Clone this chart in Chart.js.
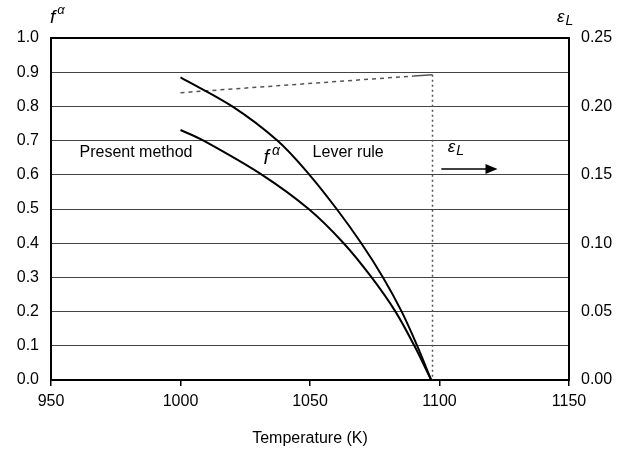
<!DOCTYPE html>
<html>
<head>
<meta charset="utf-8">
<script src="https://cdn.jsdelivr.net/npm/chart.js@4.4.1/dist/chart.umd.min.js"></script>
<style>
  html, body { margin: 0; padding: 0; background: #fff; }
  #wrap { width: 630px; height: 454px; position: relative; }
</style>
</head>
<body>
<div id="wrap"><canvas id="c" width="630" height="454"></canvas></div>
<script>
// ---- Data ----
const leverTemps   = [1000, 1020, 1037.4, 1049.8, 1060.3, 1069.8, 1078.2, 1085.4, 1091.4, 1096.8];
const leverFrac    = [0.885, 0.80, 0.70, 0.60, 0.50, 0.40, 0.30, 0.20, 0.10, 0.0];
const presentTemps = [1000, 1008.9, 1031.5, 1049.5, 1063, 1073.8, 1083, 1090.3, 1096.8];
const presentFrac  = [0.731, 0.70, 0.60, 0.50, 0.40, 0.30, 0.20, 0.10, 0.0];
const epsTemps     = [1000, 1090, 1097.3];
const epsValues    = [0.210, 0.2222, 0.2232];
const epsDropTemps = [1097.3, 1097.3];
const epsDropVals  = [0.2232, 0.0];
const xTicks       = [950, 1000, 1050, 1100, 1150];
const yLeftTicks   = [0.0, 0.1, 0.2, 0.3, 0.4, 0.5, 0.6, 0.7, 0.8, 0.9, 1.0];
const yRightTicks  = [0.00, 0.05, 0.10, 0.15, 0.20, 0.25];
const labels = [
  { text: 'Present method', x: 961,    y: 0.664 },
  { text: 'Lever rule',     x: 1051,   y: 0.664 }
];
const faLabel  = { x: 1032, y: 0.632 };
const epsLabel = { x: 1103.2, y: 0.668 };
const arrow    = { x0: 1100.7, x1: 1122.4, y: 0.617 };

const zip = (xs, ys) => xs.map((x, i) => ({ x, y: ys[i] }));
const FONT = '"Liberation Sans", Arial, sans-serif';

const drawFAlpha = (ctx, x, yBase, fSize, gap) => {
  ctx.save();
  ctx.fillStyle = '#000';
  ctx.textAlign = 'left';
  ctx.textBaseline = 'alphabetic';
  ctx.font = 'italic ' + fSize + 'px ' + FONT;
  ctx.fillText('f', x, yBase);
  const w = ctx.measureText('f').width;
  ctx.font = 'italic ' + Math.round(fSize * 0.68) + 'px ' + FONT;
  ctx.fillText('\u03B1', x + w + gap, yBase - fSize * 0.45);
  ctx.restore();
};
const drawEpsL = (ctx, x, yBase, size) => {
  ctx.save();
  ctx.fillStyle = '#000';
  ctx.textAlign = 'left';
  ctx.textBaseline = 'alphabetic';
  ctx.font = 'italic ' + size + 'px ' + FONT;
  ctx.fillText('\u03B5', x, yBase);
  const w = ctx.measureText('\u03B5').width;
  ctx.font = 'italic ' + Math.round(size * 0.8) + 'px ' + FONT;
  ctx.fillText('L', x + w + 1, yBase + size * 0.2);
  ctx.restore();
};

const decor = {
  id: 'decor',
  beforeDatasetsDraw(chart) {
    const { ctx, chartArea: a } = chart;
    ctx.save();
    ctx.strokeStyle = '#000';
    ctx.lineWidth = 2;
    ctx.strokeRect(a.left, a.top, a.right - a.left, a.bottom - a.top);
    ctx.restore();
  },
  afterDatasetsDraw(chart) {
    const { ctx, chartArea: a, scales } = chart;
    const xs = scales.x, ys = scales.y;
    ctx.save();
    ctx.fillStyle = '#000';
    ctx.font = '16px ' + FONT;
    ctx.textBaseline = 'middle';
    ctx.textAlign = 'left';
    labels.forEach(l => ctx.fillText(l.text, xs.getPixelForValue(l.x), ys.getPixelForValue(l.y)));
    drawFAlpha(ctx, xs.getPixelForValue(faLabel.x), ys.getPixelForValue(faLabel.y), 20, 3);
    drawEpsL(ctx, xs.getPixelForValue(epsLabel.x), ys.getPixelForValue(epsLabel.y), 17);
    // arrow
    const ax0 = xs.getPixelForValue(arrow.x0), ax1 = xs.getPixelForValue(arrow.x1);
    const ay = ys.getPixelForValue(arrow.y);
    ctx.strokeStyle = '#000';
    ctx.lineWidth = 1.5;
    ctx.beginPath();
    ctx.moveTo(ax0, ay);
    ctx.lineTo(ax1 - 10, ay);
    ctx.stroke();
    ctx.beginPath();
    ctx.moveTo(ax1, ay);
    ctx.lineTo(ax1 - 12, ay - 5);
    ctx.lineTo(ax1 - 12, ay + 5);
    ctx.closePath();
    ctx.fill();
    // axis titles
    drawFAlpha(ctx, a.left - 1, a.top - 15, 19, 2);
    drawEpsL(ctx, a.right - 12, a.top - 16, 17);
    ctx.restore();
  }
};

new Chart(document.getElementById('c'), {
  type: 'line',
  data: {
    datasets: [
      { data: zip(leverTemps, leverFrac), yAxisID: 'y', borderColor: '#000', borderWidth: 2,
        pointRadius: 0, tension: 0.35, fill: false },
      { data: zip(presentTemps, presentFrac), yAxisID: 'y', borderColor: '#000', borderWidth: 2,
        pointRadius: 0, tension: 0.35, fill: false },
      { data: zip(epsTemps, epsValues), yAxisID: 'y2', borderColor: '#555', borderWidth: 1.5,
        pointRadius: 0, tension: 0, fill: false,
        segment: { borderDash: c => (c.p1DataIndex === epsTemps.length - 1 ? [] : [4, 4]) } },
      { data: zip(epsDropTemps, epsDropVals), yAxisID: 'y2', borderColor: '#555', borderWidth: 1.5,
        borderDash: [2, 3], pointRadius: 0, tension: 0, fill: false }
    ]
  },
  options: {
    responsive: false,
    animation: false,
    events: [],
    layout: { padding: { top: 38, left: 0, right: 0, bottom: 0 } },
    plugins: { legend: { display: false }, tooltip: { enabled: false } },
    scales: {
      x: {
        type: 'linear', min: 950, max: 1150,
        afterBuildTicks: s => { s.ticks = xTicks.map(v => ({ value: v })); },
        afterFit: s => { s.height = 74; },
        grid: { drawOnChartArea: false, drawTicks: true, tickLength: 6, color: '#000', lineWidth: 1.5 },
        border: { display: false },
        ticks: { color: '#000', font: { size: 16, family: FONT }, padding: 6, maxRotation: 0,
                 callback: v => String(v) },
        title: { display: true, text: 'Temperature (K)', color: '#000',
                 font: { size: 16, family: FONT }, padding: { top: 0, bottom: 6 } }
      },
      y: {
        position: 'left', min: 0, max: 1,
        afterBuildTicks: s => { s.ticks = yLeftTicks.map(v => ({ value: v })); },
        afterFit: s => { s.width = 51; },
        grid: { drawTicks: false, color: '#444', lineWidth: 1 },
        border: { display: false },
        ticks: { color: '#000', font: { size: 16, family: FONT }, padding: 12,
                 callback: v => v.toFixed(1) }
      },
      y2: {
        position: 'right', min: 0, max: 0.25,
        afterBuildTicks: s => { s.ticks = yRightTicks.map(v => ({ value: v })); },
        afterFit: s => { s.width = 61; },
        grid: { drawOnChartArea: false, drawTicks: false },
        border: { display: false },
        ticks: { color: '#000', font: { size: 16, family: FONT }, padding: 12,
                 callback: v => v.toFixed(2) }
      }
    }
  },
  plugins: [decor]
});
</script>
</body>
</html>
